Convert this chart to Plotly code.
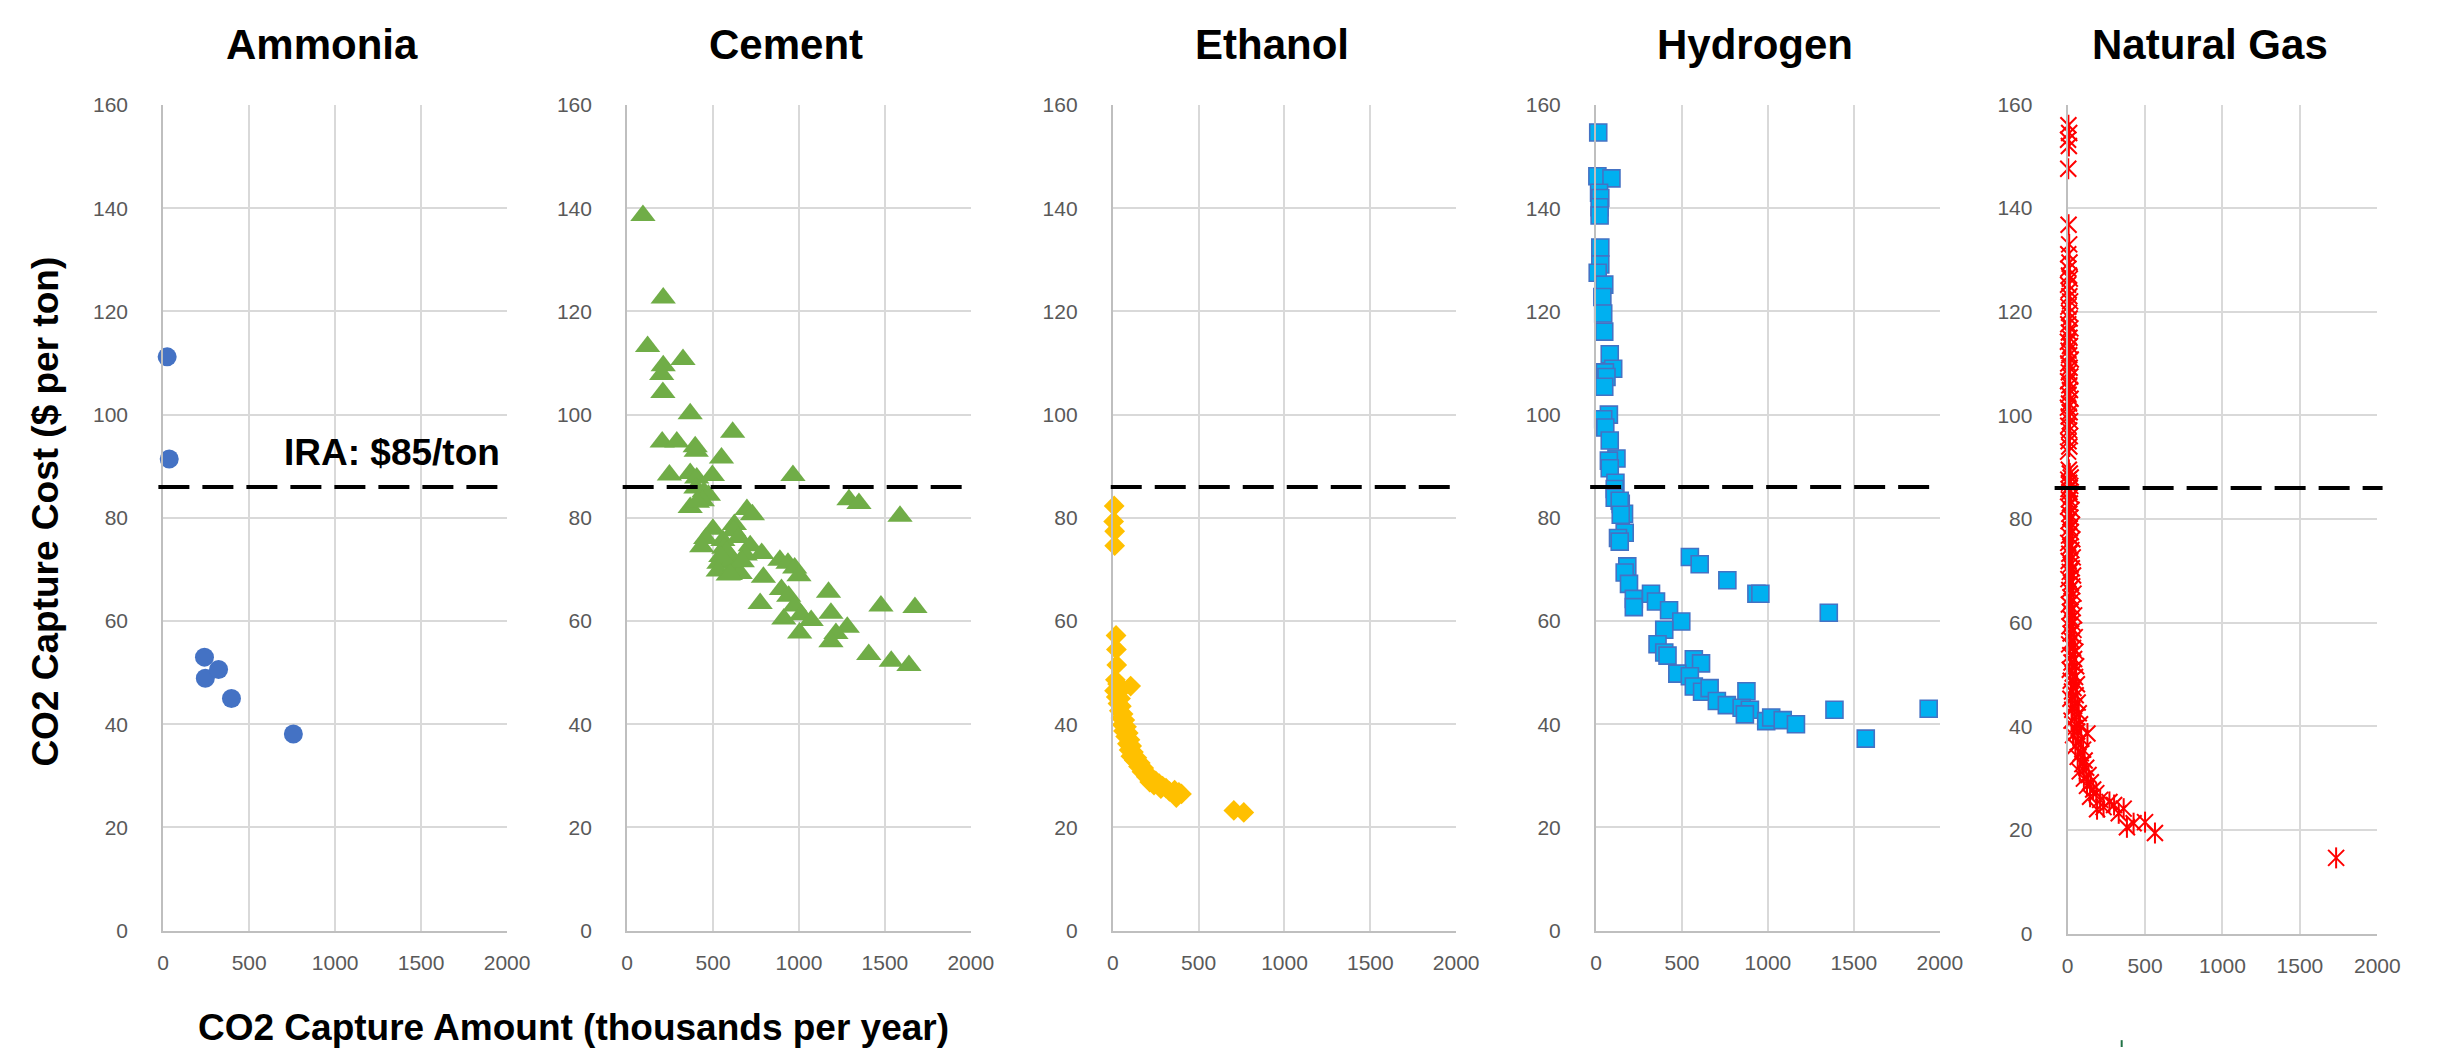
import plotly.graph_objects as go

# ---------------- data ----------------
panel_titles = ["Ammonia", "Cement", "Ethanol", "Hydrogen", "Natural Gas"]
x_tick_vals = [0, 500, 1000, 1500, 2000]
y_tick_vals = [0, 20, 40, 60, 80, 100, 120, 140, 160]
ira_level = 86
ira_label = "IRA: $85/ton"
y_title = "CO2 Capture Cost ($ per ton)"
x_title = "CO2 Capture Amount (thousands per year)"

ammonia_x = [23, 35, 240, 245, 322, 397, 757]
ammonia_y = [111.2, 91.4, 53.0, 48.9, 50.6, 45.0, 38.1]

cement_x = [92, 210, 119, 325, 210, 201, 208, 367, 614, 204, 289, 396, 402, 549, 246,
            367, 405, 496, 965, 400, 447, 473, 438, 367, 409, 1291, 1349, 1588, 697, 729,
            624, 620, 499, 457, 434, 557, 563, 649, 716, 783, 687, 534, 611, 630, 530,
            588, 658, 889, 936, 975, 1000, 793, 898, 940, 975, 774, 1172, 1186, 1477, 1675,
            912, 1013, 1071, 1004, 1281, 1215, 1186, 1406, 1537, 1640, 580, 545, 670, 600]
cement_y = [138.6, 122.6, 113.2, 110.7, 109.5, 107.8, 104.3, 100.2, 96.6, 94.7, 94.7, 93.8, 92.9, 91.6, 88.3,
            88.6, 87.7, 88.2, 88.2, 85.8, 85.0, 84.4, 83.3, 82.0, 83.0, 83.5, 82.8, 80.3, 81.6, 80.6,
            78.7, 77.5, 77.8, 76.0, 74.4, 75.6, 74.1, 76.2, 74.6, 73.1, 72.8, 71.2, 71.6, 70.2, 69.7,
            68.9, 69.2, 71.8, 71.2, 70.3, 68.8, 68.5, 66.1, 64.8, 62.9, 63.4, 65.6, 61.5, 62.9, 62.6,
            60.4, 61.2, 60.1, 57.7, 58.8, 57.6, 56.0, 53.5, 52.2, 51.4, 73.5, 72.5, 71.5, 69.0]

ethanol_x = [8, 5, 11, 11, 19, 21, 23, 104, 15, 28, 10, 35, 20, 45, 30, 50, 38, 60, 48, 70,
             55, 80, 62, 90, 75, 100, 85, 110, 95, 120, 105, 140, 125, 160, 150, 180, 170, 200,
             195, 225, 215, 250, 240, 270, 290, 280, 310, 330, 360, 385, 370, 400, 705, 763]
ethanol_y = [82.3, 79.3, 77.4, 74.6, 57.2, 54.5, 51.5, 47.4, 48.6, 47.8, 46.5, 46.2, 45.3, 45.0,
             44.0, 43.5, 42.6, 42.0, 41.2, 40.8, 39.9, 39.5, 38.7, 38.3, 37.6, 37.0, 36.2, 35.8,
             35.0, 34.6, 33.8, 33.5, 33.0, 32.5, 31.8, 31.5, 30.8, 30.5, 29.8, 29.5, 28.8, 29.0,
             28.2, 28.5, 28.0, 27.5, 27.6, 27.0, 27.2, 26.8, 25.8, 26.5, 23.3, 22.9]

hydrogen_x = [13, 8, 90, 18, 25, 21, 21, 25, 25, 10, 48, 37, 42, 48, 80, 100, 52, 61, 48, 75,
              42, 54, 80, 119, 75, 80, 113, 109, 144, 163, 109, 138, 144, 167, 128, 138, 182,
              167, 192, 220, 220, 320, 349, 425, 496, 397, 358, 397, 416, 569, 611, 473, 546,
              569, 617, 661, 703, 761, 875, 847, 895, 866, 990, 1019, 1086, 1163, 1354, 1387,
              1569, 1935, 546, 603, 764, 933, 956]
hydrogen_y = [154.7, 146.2, 145.8, 143.0, 142.0, 140.2, 138.6, 132.4, 129.1, 127.5, 125.2, 122.8,
              119.6, 116.1, 111.7, 108.9, 108.2, 107.3, 105.4, 100.0, 99.1, 97.5, 95.0, 91.5,
              91.1, 89.6, 86.8, 85.6, 82.7, 80.8, 83.9, 83.3, 80.6, 77.1, 76.1, 75.4, 70.6, 69.4,
              67.2, 64.3, 62.7, 65.3, 63.8, 62.1, 59.9, 58.3, 55.5, 53.9, 53.3, 52.6, 51.8, 49.8,
              49.3, 47.3, 46.3, 47.0, 44.5, 43.7, 46.4, 43.2, 42.8, 41.9, 40.6, 41.3, 40.8, 40.0,
              61.6, 42.8, 37.2, 43.0, 72.4, 71.0, 67.9, 65.3, 65.3]

natgas_x = [5, 10, 3, 8, 4, 6, 10, 4, 12, 5, 9, 14, 3, 7, 11, 16, 5, 9, 13, 4, 18, 8, 12, 2, 15,
            6, 10, 20, 4, 13, 8, 17, 3, 11, 15, 6, 19, 9, 2, 13, 7, 16, 4, 10, 14, 6, 11, 3,
            8, 14, 20, 4, 10, 17, 6, 12,
            22, 8, 15, 3, 25, 11, 18, 6, 28, 14, 21, 9, 30, 4, 17, 24, 11, 33, 7, 20, 27, 14,
            35, 5, 22, 30, 11, 38, 18, 26, 8, 33, 15, 42, 22, 30, 12, 38, 19, 46, 27, 10, 35,
            50, 17, 42, 25, 55, 14, 33, 48, 20, 60, 38, 28, 52, 18, 65, 42, 30, 72, 55, 25, 80,
            45, 62, 128, 35,
            88, 70, 50, 100, 85, 65, 110, 95, 120, 78, 135, 105, 150, 125, 165, 185, 145, 210,
            270, 300, 232, 190, 330, 362, 383, 426, 500, 564, 1734]
natgas_y = [156.0, 154.5, 153.2, 152.0, 147.6, 136.8, 133.0, 131.1, 129.5, 128.3, 127.0, 126.4,
            125.2, 124.1, 123.0, 122.0, 121.0, 119.8, 118.7, 117.6, 116.8, 116.0, 115.0, 114.2,
            113.4, 112.5, 111.6, 110.8, 110.0, 109.2, 108.3, 107.5, 106.6, 105.8, 104.9, 104.0,
            103.2, 102.3, 101.5, 100.6, 99.8, 98.9, 98.0, 97.1, 96.0, 95.0, 94.0, 93.0,
            89.5, 88.8, 88.0, 87.6, 87.0, 86.4, 85.8, 85.2,
            84.5, 83.8, 83.0, 82.4, 81.8, 81.0, 80.3, 79.6, 78.9, 78.2, 77.5, 76.8, 76.1, 75.4,
            74.7, 74.0, 73.3, 72.6, 71.9, 71.2, 70.5, 69.8, 69.1, 68.4, 67.7, 67.0, 66.3, 65.6,
            64.9, 64.2, 63.5, 62.8, 62.1, 61.4, 60.7, 60.0, 59.3, 58.6, 57.9, 57.2, 56.5, 55.8,
            55.1, 54.4, 53.7, 53.0, 52.3, 51.6, 50.9, 50.2, 49.5, 48.8, 48.1, 47.4, 46.7, 46.0,
            45.3, 44.6, 43.9, 43.2, 42.5, 41.8, 41.1, 40.4, 39.7, 39.0, 38.6, 38.3,
            37.6, 36.9, 36.2, 35.5, 34.8, 34.1, 33.4, 32.7, 32.0, 31.3, 30.6, 29.9, 29.2, 28.5,
            27.8, 27.1, 26.4, 25.8, 25.4, 24.8, 24.4, 24.0, 23.2, 24.1, 20.5, 21.3, 21.5, 19.4,
            14.6]

# ---------------- layout helpers ----------------
W, H = 2443, 1050
# plot areas in pixels: left, right, top, bottom
panel_px = [(151, 499, 87, 931), (620.5, 968.3, 87, 931), (1112, 1459.5, 87, 931),
            (1601, 1949, 87, 931), (2078.3, 2391.7, 86.4, 934)]
dash_ext = [(-0.014, 1.006), (-0.013, 1.010), (-0.006, 1.018), (-0.017, 1.003), (-0.042, 1.017)]

FONT = "Liberation Sans, Arial, sans-serif"
GRID = "#d9d9d9"
AXLINE = "#bfbfbf"
TICKC = "#595959"

fig = go.Figure()

series = [
    (ammonia_x, ammonia_y, dict(symbol="circle", size=19, color="#4472c4", line=dict(width=0))),
    (cement_x, cement_y, dict(symbol="triangle-up", size=22, color="#70ad47", line=dict(width=0))),
    (ethanol_x, ethanol_y, dict(symbol="diamond", size=16, color="#ffc000", line=dict(width=0))),
    (hydrogen_x, hydrogen_y, dict(symbol="square", size=17, color="#00b0f0",
                                  line=dict(width=1.6, color="#4472c4"))),
]

for i, (xs, ys, mk) in enumerate(series):
    sfx = "" if i == 0 else str(i + 1)
    fig.add_trace(go.Scatter(x=xs, y=ys, mode="markers", marker=mk, cliponaxis=False,
                             xaxis="x" + sfx, yaxis="y" + sfx, showlegend=False,
                             name=panel_titles[i]))

# Natural gas: Excel "star" marker = x plus vertical stroke
fig.add_trace(go.Scatter(x=natgas_x, y=natgas_y, mode="markers", cliponaxis=False,
                         marker=dict(symbol="x-thin-open", size=16, color="#ff0000",
                                     line=dict(width=2, color="#ff0000")),
                         xaxis="x5", yaxis="y5", showlegend=False, name=panel_titles[4]))
fig.add_trace(go.Scatter(x=natgas_x, y=natgas_y, mode="markers", cliponaxis=False,
                         marker=dict(symbol="line-ns-open", size=15, color="#ff0000",
                                     line=dict(width=2, color="#ff0000")),
                         xaxis="x5", yaxis="y5", showlegend=False, hoverinfo="skip"))

layout = dict(width=W, height=H, margin=dict(l=0, r=0, t=0, b=0),
              paper_bgcolor="white", plot_bgcolor="white", showlegend=False)

annotations = []
shapes = []
for i, (l, r, t, b) in enumerate(panel_px):
    sfx = "" if i == 0 else str(i + 1)
    xd = [l / W, r / W]
    yd = [1 - b / H, 1 - t / H]
    layout["xaxis" + sfx] = dict(
        domain=xd, range=[0, 2000], tickmode="array", tickvals=x_tick_vals,
        showgrid=True, gridcolor=GRID, gridwidth=2, zeroline=False,
        showline=True, linecolor=AXLINE, linewidth=2, ticks="",
        tickfont=dict(family=FONT, size=21, color=TICKC), ticklabelstandoff=12,
        anchor="y" + sfx, fixedrange=True)
    layout["yaxis" + sfx] = dict(
        domain=yd, range=[0, 160], tickmode="array", tickvals=y_tick_vals,
        showgrid=True, gridcolor=GRID, gridwidth=2, zeroline=False,
        showline=True, linecolor=AXLINE, linewidth=2, ticks="",
        tickfont=dict(family=FONT, size=21, color=TICKC), ticklabelstandoff=29,
        anchor="x" + sfx, fixedrange=True)
    # IRA threshold dashed line
    x0, x1 = dash_ext[i]
    shapes.append(dict(type="line", xref="x" + sfx + " domain", yref="y" + sfx,
                       x0=x0, x1=x1, y0=ira_level, y1=ira_level,
                       line=dict(color="black", width=4, dash="31px,13px")))
    # panel title
    annotations.append(dict(text=panel_titles[i], xref="paper", yref="paper",
                            x=((l + r) / 2 - 13) / W, y=1 - 25 / H,
                            xanchor="center", yanchor="middle", showarrow=False,
                            font=dict(family=FONT, size=42, color="black", weight="bold")))

annotations.append(dict(text=ira_label, xref="paper", yref="paper", x=494 / W, y=1 - 442 / H,
                        xanchor="right", yanchor="middle", showarrow=False,
                        font=dict(family=FONT, size=37, color="black", weight="bold")))
annotations.append(dict(text=y_title, xref="paper", yref="paper", x=32 / W, y=1 - 503 / H,
                        xanchor="center", yanchor="middle", textangle=-90, showarrow=False,
                        font=dict(family=FONT, size=37, color="black", weight="bold")))
annotations.append(dict(text=x_title, xref="paper", yref="paper", x=184 / W, y=1 - 1030 / H,
                        xanchor="left", yanchor="middle", showarrow=False,
                        font=dict(family=FONT, size=37, color="black", weight="bold")))

# small stray tick mark at the bottom edge of the original image
shapes.append(dict(type="line", xref="paper", yref="paper", x0=2133 / W, x1=2133 / W,
                   y0=0, y1=7 / H, line=dict(color="#217346", width=2)))

layout["annotations"] = annotations
layout["shapes"] = shapes
fig.update_layout(**layout)

fig.write_html("out.html")
